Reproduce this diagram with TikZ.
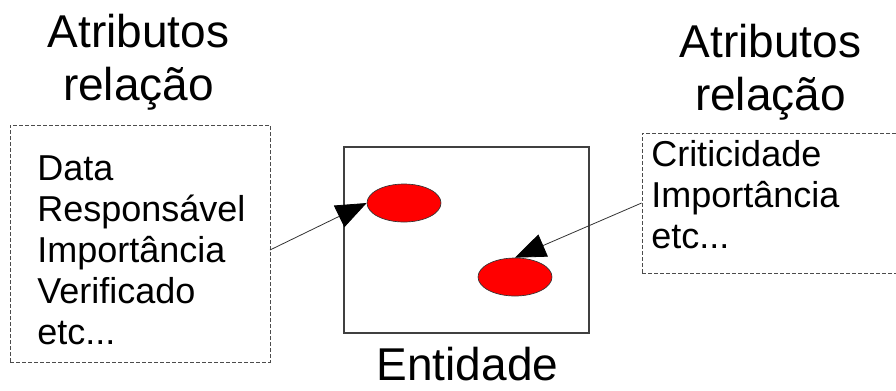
\documentclass[tikz,border=0pt]{standalone}
\usepackage{fontspec}
\setmainfont{Liberation Sans}
\usetikzlibrary{shapes.geometric,arrows.meta}

\tikzset{
  titulo/.style={align=center, font=\fontsize{34.5}{39.75}\selectfont, inner sep=0pt},
  lista/.style={align=left, font=\fontsize{27}{30.75}\selectfont, inner sep=0pt},
  caixa/.style={draw=black!70, dash pattern=on 3pt off 1.5pt, line width=0.6pt, inner sep=0pt},
  entidade/.style={draw=black!75, line width=0.9pt, inner sep=0pt},
  ocorrencia/.style={ellipse, draw=black!80, fill=red, line width=0.5pt,
    minimum width=55.5pt, minimum height=28.5pt, inner sep=0pt},
  seta/.style={draw=black!80, line width=0.6pt,
    -{Triangle[length=23pt,width=18pt,color=black]}}
}

\begin{document}
\begin{tikzpicture}[x=0.75pt,y=-0.75pt]
    \useasboundingbox (0,0) rectangle (896,390);

    % titles (base = baseline of the last line)
    \node [titulo, anchor=base] (ltitulo) at (138.5,100) {Atributos\\relação};
    \node [titulo, anchor=base] (rtitulo) at (770.5,110) {Atributos\\relação};
    \node [titulo, anchor=base] (etitulo) at (467.5,380) {Entidade};

    % dashed boxes of attributes
    \node [caixa, minimum width=195pt, minimum height=177.75pt] (lcaixa) at (140,243.5) {};
    \node [caixa, minimum width=193.5pt, minimum height=105pt] (rcaixa) at (771,203) {};

    \node [lista, anchor=base west] (llista) at (37,344)
        {Data\\Responsável\\Importância\\Verificado\\etc...};
    \node [lista, anchor=base west] (rlista) at (651,248)
        {Criticidade\\Importância\\etc...};

    % entity with two occurrences
    \node [entidade, minimum width=183.75pt, minimum height=139.5pt] (ent) at (466.5,240) {};
    \node [ocorrencia] (oc1) at (404,203) {};
    \node [ocorrencia] (oc2) at (515,277) {};

    % links
    \coordinate (lpe) at (270,250);
    \draw [seta] (lpe) -- (oc1.west);
    \draw [seta] (rcaixa.west) -- (oc2.north);
\end{tikzpicture}
\end{document}
